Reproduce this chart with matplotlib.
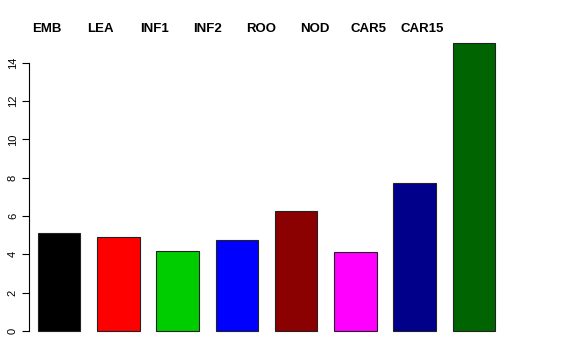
import matplotlib
matplotlib.use("Agg")
import matplotlib.pyplot as plt
import matplotlib.transforms as mtransforms

plt.rcParams['font.family'] = ['Liberation Sans', 'DejaVu Sans']

# bar data
groups = ["EMB", "LEA", "INF1", "INF2", "ROO", "NOD", "CAR5", "CAR15"]
values = [5.13, 4.90, 4.19, 4.73, 6.28, 4.12, 7.74, 15.0]
colors = ["#000000", "#FF0000", "#00CD00", "#0000FF",
          "#8B0000", "#FF00FF", "#00008B", "#006400"]
yticks = [0, 2, 4, 6, 8, 10, 12, 14]

# R barplot style positions: width 1, space 0.4
xpos = [0.9 + 1.4 * i for i in range(len(groups))]
# header labels sit at their own spacing (figure pixels)
label_px = [46.7 + 53.7 * i for i in range(len(groups))]

fig = plt.figure(figsize=(5.76, 3.6), dpi=100)
ax = fig.add_axes([29 / 576, (360 - 342.5) / 360, (512 - 29) / 576, 310.5 / 360])

ax.bar(xpos, values, width=1.0, color=colors, edgecolor="#222222", linewidth=0.8)

ax.set_xlim(0.4 - 9 / 42.36, 11.6)
ax.set_ylim(-0.6, 15.6)

for s in ["top", "right", "bottom"]:
    ax.spines[s].set_visible(False)
ax.spines["left"].set_bounds(0, 14)
ax.spines["left"].set_linewidth(0.8)
ax.set_xticks([])
ax.set_yticks(yticks)
ax.set_yticklabels([str(t) for t in yticks], rotation=90, va="center")
ax.tick_params(axis="y", length=5, width=0.8, labelsize=8, pad=3)

# group names across the top
trans = mtransforms.blended_transform_factory(fig.transFigure, fig.transFigure)
for name, px in zip(groups, label_px):
    fig.text(px / 576, 1 - 29.5 / 360, name, transform=trans, ha="center", va="center",
             fontsize=9.5, fontweight="bold")

fig.savefig("out.png", dpi=100)
